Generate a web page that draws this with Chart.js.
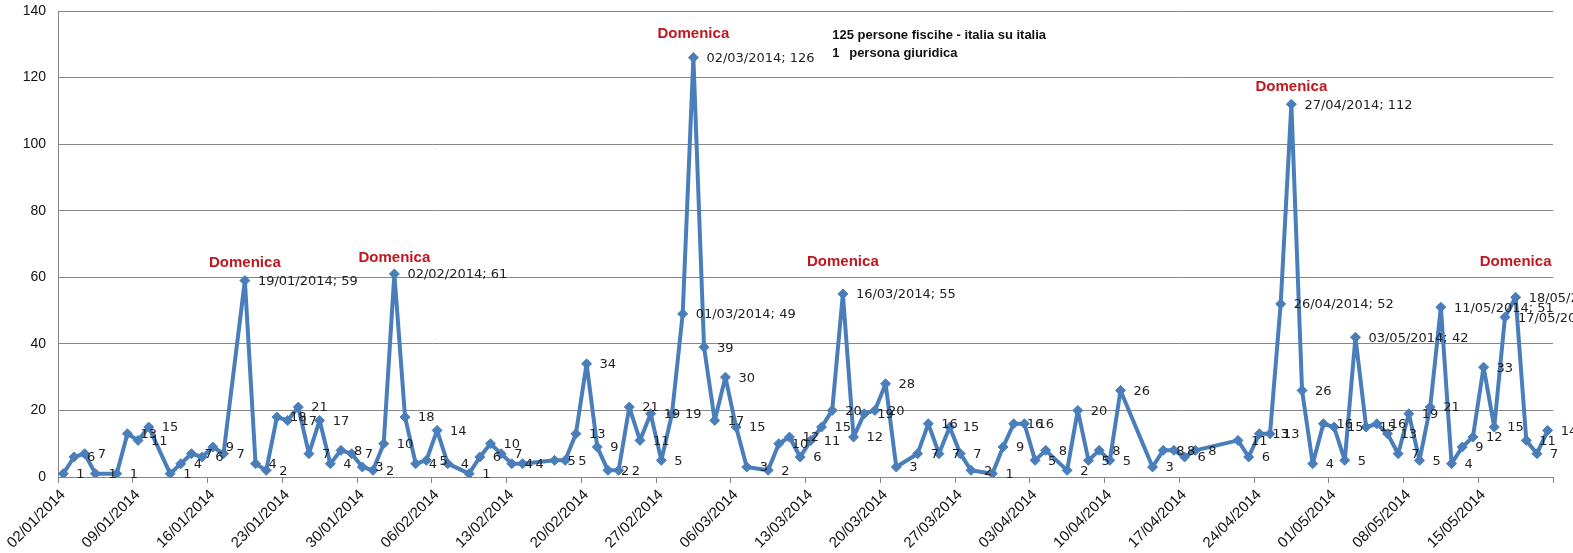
<!DOCTYPE html>
<html lang="it">
<head>
<meta charset="UTF-8">
<title>Persone fisiche</title>
<script src="https://cdn.jsdelivr.net/npm/chart.js"></script>
<style>
  body { margin: 0; background: #fff; }
  canvas { display: block; }
</style>
</head>
<body>
<canvas id="chart" width="1573" height="553"></canvas>
<script>
// giorni presenti nella serie (i giorni mancanti non hanno punto)
const dates = [
  '02/01/2014','03/01/2014','04/01/2014','05/01/2014','07/01/2014','08/01/2014','09/01/2014','10/01/2014',
  '12/01/2014','13/01/2014','14/01/2014','15/01/2014','16/01/2014','17/01/2014','19/01/2014','20/01/2014',
  '21/01/2014','22/01/2014','23/01/2014','24/01/2014','25/01/2014','26/01/2014','27/01/2014','28/01/2014',
  '29/01/2014','30/01/2014','31/01/2014',
  '01/02/2014','02/02/2014','03/02/2014','04/02/2014','05/02/2014','06/02/2014','07/02/2014','09/02/2014',
  '10/02/2014','11/02/2014','12/02/2014','13/02/2014','14/02/2014','17/02/2014','18/02/2014','19/02/2014',
  '20/02/2014','21/02/2014','22/02/2014','23/02/2014','24/02/2014','25/02/2014','26/02/2014','27/02/2014',
  '28/02/2014',
  '01/03/2014','02/03/2014','03/03/2014','04/03/2014','05/03/2014','06/03/2014','07/03/2014','09/03/2014',
  '10/03/2014','11/03/2014','12/03/2014','13/03/2014','14/03/2014','15/03/2014','16/03/2014','17/03/2014',
  '18/03/2014','19/03/2014','20/03/2014','21/03/2014','23/03/2014','24/03/2014','25/03/2014','26/03/2014',
  '27/03/2014','28/03/2014','30/03/2014','31/03/2014',
  '01/04/2014','02/04/2014','03/04/2014','04/04/2014','06/04/2014','07/04/2014','08/04/2014','09/04/2014',
  '10/04/2014','11/04/2014','14/04/2014','15/04/2014','16/04/2014','17/04/2014','18/04/2014','22/04/2014',
  '23/04/2014','24/04/2014','25/04/2014','26/04/2014','27/04/2014','28/04/2014','29/04/2014','30/04/2014',
  '01/05/2014','02/05/2014','03/05/2014','04/05/2014','05/05/2014','06/05/2014','07/05/2014','08/05/2014',
  '09/05/2014','10/05/2014','11/05/2014','12/05/2014','13/05/2014','14/05/2014','15/05/2014','16/05/2014',
  '17/05/2014','18/05/2014','19/05/2014','20/05/2014','21/05/2014'
];
const counts = [
  1,6,7,1,1,13,11,15, 1,4,7,6,9,7,59,4, 2,18,17,21,7,17,4,8, 7,3,2,
  10,61,18,4,5,14,4,1, 6,10,7,4,4,5,5,13, 34,9,2,2,21,11,19,5, 19,
  49,126,39,17,30,15,3,2, 10,12,6,11,15,20,55,12, 19,20,28,3,7,16,7,15, 7,2,1,9,
  16,16,5,8,2,20,5,8, 5,26,3,8,8,6,8,11, 6,13,13,52,112,26,4,16,
  15,5,42,15,16,13,7,19, 5,21,51,4,9,12,33,15, 48,54,11,7,14
];
// punti con etichetta "data; valore"
const dateLabelled = ['19/01/2014','02/02/2014','01/03/2014','02/03/2014','16/03/2014',
  '26/04/2014','27/04/2014','03/05/2014','11/05/2014','17/05/2014','18/05/2014'];
const xTickLabels = ['02/01/2014','09/01/2014','16/01/2014','23/01/2014','30/01/2014','06/02/2014',
  '13/02/2014','20/02/2014','27/02/2014','06/03/2014','13/03/2014','20/03/2014','27/03/2014',
  '03/04/2014','10/04/2014','17/04/2014','24/04/2014','01/05/2014','08/05/2014','15/05/2014'];
const yTicks = [0, 20, 40, 60, 80, 100, 120, 140];
const domenicaDates = ['19/01/2014','02/02/2014','02/03/2014','16/03/2014','27/04/2014','18/05/2014'];
const domenicaLevels = [64.3, 65.8, 133.2, 64.5, 117.3, 64.5];
const noteLines = ['125 persone fiscihe - italia su italia', '1', 'persona giuridica'];

function dayIndex(s) {
  const p = s.split('/');
  return (Date.UTC(+p[2], +p[1] - 1, +p[0]) - Date.UTC(2014, 0, 2)) / 86400000;
}
function dayLabel(v) {
  const d = new Date(Date.UTC(2014, 0, 2) + v * 86400000);
  const pad = n => String(n).padStart(2, '0');
  return pad(d.getUTCDate()) + '/' + pad(d.getUTCMonth() + 1) + '/' + d.getUTCFullYear();
}

const points = dates.map((d, i) => ({ x: dayIndex(d) + 0.5, y: counts[i] }));

const labelPlugin = {
  id: 'labels',
  afterDatasetsDraw(chart) {
    const ctx = chart.ctx;
    const meta = chart.getDatasetMeta(0);
    const xs = chart.scales.x, ys = chart.scales.y;
    ctx.save();
    ctx.font = '13px "DejaVu Sans"';
    ctx.fillStyle = '#222';
    ctx.textAlign = 'left';
    ctx.textBaseline = 'middle';
    meta.data.forEach((pt, i) => {
      const txt = dateLabelled.includes(dates[i]) ? dates[i] + '; ' + counts[i] : String(counts[i]);
      ctx.fillText(txt, pt.x + 13, pt.y + 1);
    });

    ctx.font = 'bold 15px "Liberation Sans"';
    ctx.fillStyle = '#c0171f';
    ctx.textAlign = 'center';
    domenicaDates.forEach((d, i) => {
      ctx.fillText('Domenica', xs.getPixelForValue(dayIndex(d) + 0.5), ys.getPixelForValue(domenicaLevels[i]));
    });

    ctx.font = 'bold 13px "Liberation Sans"';
    ctx.fillStyle = '#111';
    ctx.textAlign = 'left';
    const nx = xs.getPixelForValue(72.5);
    ctx.fillText(noteLines[0], nx, ys.getPixelForValue(132.6));
    ctx.fillText(noteLines[1], nx, ys.getPixelForValue(127.4));
    ctx.fillText(noteLines[2], nx + 17, ys.getPixelForValue(127.4));
    ctx.restore();
  }
};

new Chart(document.getElementById('chart'), {
  type: 'line',
  data: {
    datasets: [{
      data: points,
      borderColor: '#4a7ebb',
      backgroundColor: '#4a7ebb',
      borderWidth: 4,
      borderJoinStyle: 'round',
      pointStyle: 'rectRot',
      pointRadius: 5,
      pointBorderWidth: 1,
      tension: 0
    }]
  },
  options: {
    responsive: false,
    animation: false,
    layout: { padding: { top: 11, right: 20, left: 0, bottom: 0 } },
    plugins: { legend: { display: false }, tooltip: { enabled: false } },
    scales: {
      x: {
        type: 'linear',
        min: 0,
        max: 140,
        afterBuildTicks: axis => {
          axis.ticks = xTickLabels.map(l => ({ value: dayIndex(l) })).concat([{ value: 140 }]);
        },
        afterFit: scale => {
          scale.height = 76;
          scale.paddingLeft = 0;
          scale.paddingRight = 0;
        },
        ticks: {
          autoSkip: false,
          maxRotation: 45,
          minRotation: 45,
          labelOffset: 5,
          color: '#111',
          font: { family: 'Liberation Sans', size: 15 },
          callback: v => (xTickLabels.includes(dayLabel(v)) ? dayLabel(v) : '')
        },
        grid: { drawOnChartArea: false, color: '#868686', tickLength: 6 },
        border: { color: '#868686', width: 1 }
      },
      y: {
        min: 0,
        max: 140,
        afterBuildTicks: axis => { axis.ticks = yTicks.map(v => ({ value: v })); },
        afterFit: scale => {
          scale.width = 58;
          scale.paddingTop = 0;
          scale.paddingBottom = 0;
        },
        ticks: {
          color: '#111',
          padding: 12,
          font: { family: 'Liberation Sans', size: 14 }
        },
        grid: { color: '#868686', drawTicks: false },
        border: { color: '#868686', width: 1 }
      }
    }
  },
  plugins: [labelPlugin]
});
</script>
</body>
</html>
